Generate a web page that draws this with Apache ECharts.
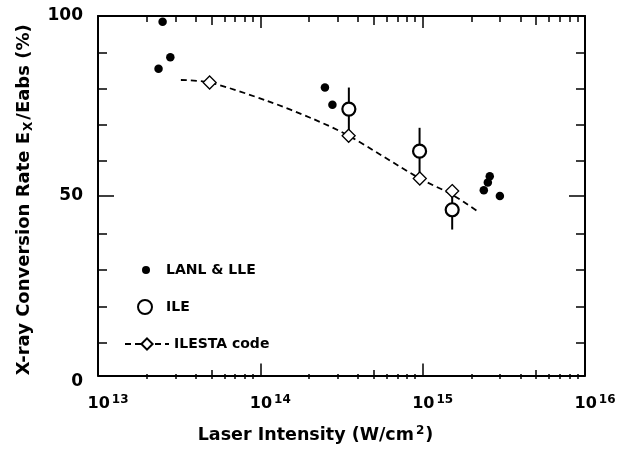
<!DOCTYPE html>
<html>
<head>
<meta charset="utf-8">
<script src="https://cdn.jsdelivr.net/npm/echarts@6/dist/echarts.min.js"></script>
<style>html,body{margin:0;padding:0;background:#fff;}#c{width:626px;height:449px;}</style>
</head>
<body>
<div id="c"></div>
<script>
// LANL & LLE (filled dots)
const lanlX = [2.5e13, 2.79e13, 2.36e13, 2.5e14, 2.78e14, 2.59e15, 2.52e15, 2.38e15, 2.99e15];
const lanlY = [98.4, 88.5, 85.3, 80.1, 75.3, 55.4, 53.7, 51.5, 49.9];
// ILE (open circles with error bars)
const ileX = [3.51e14, 9.57e14, 1.52e15];
const ileY = [74.1, 62.4, 46.1];
const ileLow = [66.7, 54.8, 40.6];
const ileHigh = [80.1, 68.9, 51.3];
// ILESTA code (diamonds + dashed curve)
const ilestaX = [4.87e13, 3.5e14, 9.6e14, 1.52e15];
const ilestaY = [81.5, 66.7, 54.8, 51.3];
const curveX = [3.24e13, 4.87e13, 1.1e14, 2.13e14, 3.5e14, 9.6e14, 1.52e15, 2.19e15];
const curveY = [82.2, 81.5, 76.4, 71.3, 66.7, 54.8, 50.3, 45.6];
// axis ticks
const xDecades = [1e13, 1e14, 1e15];
const minorMult = [2, 3, 4, 6, 7, 8, 9];
const halfMult = [5];
const yMajorTicks = [50];
const yMinorTicks = [10, 20, 30, 40, 60, 70, 80, 90];

const FONT = 'DejaVu Sans';
const zip = (a, b) => a.map((v, i) => [v, b[i]]);
const minorVals = [];
xDecades.forEach(d => minorMult.forEach(m => minorVals.push(m * d)));
const halfVals = [];
xDecades.forEach(d => halfMult.forEach(m => halfVals.push(m * d)));

const gridPos = {left: 98, right: 41, top: 16, bottom: 70};
const axLine = {show: true, onZero: false, lineStyle: {color: '#000', width: 2}};
const noLine = {show: false, onZero: false};

function xAx(gi, pos, tickLen, custom, withLine, extra) {
  const a = {
    type: 'log', logBase: 10, min: 1e13, max: 1e16, gridIndex: gi, position: pos,
    axisLine: withLine ? axLine : noLine,
    axisTick: {inside: true, length: tickLen, lineStyle: {color: '#000', width: 1.5}},
    axisLabel: {show: false},
    splitLine: {show: false}
  };
  if (custom) a.axisTick.customValues = custom;
  return Object.assign(a, extra || {});
}
function yAx(gi, pos, tickLen, interval, custom, withLine, extra) {
  const a = {
    type: 'value', min: 0, max: 100, interval: interval, gridIndex: gi, position: pos,
    axisLine: withLine ? axLine : noLine,
    axisTick: {inside: true, length: tickLen, lineStyle: {color: '#000', width: 1.5}},
    axisLabel: {show: false},
    splitLine: {show: false}
  };
  if (custom) a.axisTick.customValues = custom;
  return Object.assign(a, extra || {});
}

const legendText = {fontFamily: FONT, fontWeight: 'bold', fontSize: 14, color: '#000'};

const chart = echarts.init(document.getElementById('c'));
chart.setOption({
  animation: false,
  backgroundColor: '#fff',
  textStyle: {fontFamily: FONT, fontWeight: 'bold', color: '#000'},
  grid: [Object.assign({}, gridPos), Object.assign({}, gridPos), Object.assign({}, gridPos)],
  legend: [
    {data: ['LANL & LLE'], left: 142, top: 263, orient: 'vertical', padding: 0, itemWidth: 30, itemHeight: 8, textStyle: legendText},
    {data: ['ILE'], left: 137, top: 299, orient: 'vertical', padding: 0, itemWidth: 32, itemHeight: 14, textStyle: legendText},
    {data: ['ILESTA code'], left: 124, top: 337, orient: 'vertical', padding: 0, itemWidth: 44, itemHeight: 14, textStyle: legendText}
  ],
  xAxis: [
    xAx(0, 'bottom', 12, null, true, {
      axisLabel: {
        show: true, margin: 18, padding: [0, 0, 0, 20],
        formatter: v => '{b|10}{s|' + Math.round(Math.log10(v)) + '}',
        rich: {
          b: {fontFamily: FONT, fontWeight: 'bold', fontSize: 16, lineHeight: 20, color: '#000'},
          s: {fontFamily: FONT, fontWeight: 'bold', fontSize: 12, lineHeight: 13, verticalAlign: 'top', color: '#000', padding: [0, 0, 0, 2]}
        }
      },
      name: '{t|Laser Intensity (W/cm}{s|2}{t|)}',
      nameLocation: 'middle', nameGap: 49,
      nameTextStyle: {
        padding: [0, 52, 0, 0],
        rich: {
          t: {fontFamily: FONT, fontWeight: 'bold', fontSize: 17.5, lineHeight: 21, color: '#000'},
          s: {fontFamily: FONT, fontWeight: 'bold', fontSize: 12, lineHeight: 13, verticalAlign: 'top', color: '#000', padding: [0, 1, 0, 2]}
        }
      }
    }),
    xAx(0, 'top', 12, null, true),
    xAx(1, 'bottom', 5, minorVals, false),
    xAx(1, 'top', 6, minorVals, false),
    xAx(2, 'bottom', 9, halfVals, false),
    xAx(2, 'top', 9, halfVals, false)
  ],
  yAxis: [
    yAx(0, 'left', 16, 50, yMajorTicks, true, {
      axisLabel: {
        show: true, margin: 15, fontFamily: FONT, fontWeight: 'bold', fontSize: 17, color: '#000',
        formatter: v => v === 0 ? '{z|0}' : String(v),
        rich: {z: {fontFamily: FONT, fontWeight: 'bold', fontSize: 17, color: '#000', padding: [12, 0, 0, 0]}}
      },
      name: '{t|X-ray Conversion Rate E}{s|X}{t|/Eabs (%)}',
      nameLocation: 'middle', nameGap: 63, nameRotate: 90,
      nameTextStyle: {
        padding: [0, 8, 0, 0],
        rich: {
          t: {fontFamily: FONT, fontWeight: 'bold', fontSize: 18, lineHeight: 22, color: '#000'},
          s: {fontFamily: FONT, fontWeight: 'bold', fontSize: 12, lineHeight: 13, verticalAlign: 'bottom', color: '#000', padding: [0, 2, 0, 1]}
        }
      }
    }),
    yAx(0, 'right', 16, 50, yMajorTicks, true),
    yAx(1, 'left', 9, 10, yMinorTicks, false),
    yAx(1, 'right', 9, 10, yMinorTicks, false),
    yAx(2, 'left', 0, 50, null, false, {show: false})
  ],
  series: [
    {
      name: 'ILESTA code', type: 'line', xAxisIndex: 0, yAxisIndex: 0,
      data: zip(curveX, curveY), smooth: 0.3, showSymbol: false,
      symbol: 'diamond', symbolSize: 13,
      lineStyle: {color: '#000', width: 1.8, type: [6, 4]},
      itemStyle: {color: '#fff', borderColor: '#000', borderWidth: 1.3, opacity: 1},
      z: 2
    },
    {
      name: 'ILE err', type: 'custom', xAxisIndex: 0, yAxisIndex: 0,
      data: ileX.map((x, i) => [x, ileLow[i], ileHigh[i]]),
      renderItem: (params, api) => {
        const p1 = api.coord([api.value(0), api.value(1)]);
        const p2 = api.coord([api.value(0), api.value(2)]);
        return {type: 'line', shape: {x1: p1[0], y1: p1[1], x2: p2[0], y2: p2[1]},
                style: {stroke: '#000', lineWidth: 2}};
      },
      z: 3
    },
    {
      name: 'ILESTA code', type: 'scatter', xAxisIndex: 0, yAxisIndex: 0,
      data: zip(ilestaX, ilestaY), symbol: 'diamond', symbolSize: 13,
      itemStyle: {color: '#fff', borderColor: '#000', borderWidth: 1.3, opacity: 1},
      z: 4
    },
    {
      name: 'ILE', type: 'scatter', xAxisIndex: 0, yAxisIndex: 0,
      data: zip(ileX, ileY), symbol: 'circle', symbolSize: 13,
      itemStyle: {color: '#fff', borderColor: '#000', borderWidth: 2.2, opacity: 1},
      z: 5
    },
    {
      name: 'LANL & LLE', type: 'scatter', xAxisIndex: 0, yAxisIndex: 0,
      data: zip(lanlX, lanlY), symbol: 'circle', symbolSize: 8.5,
      itemStyle: {color: '#000', opacity: 1},
      z: 6
    }
  ]
});
</script>
</body>
</html>
